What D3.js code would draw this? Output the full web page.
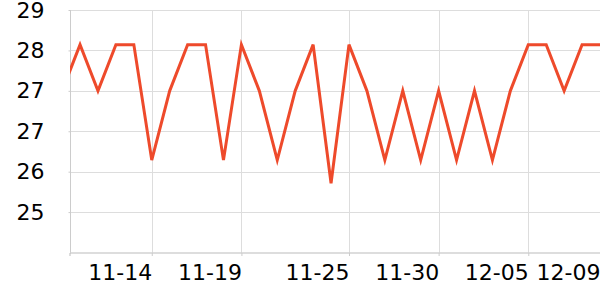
<!DOCTYPE html>
<html>
<head>
<meta charset="utf-8">
<script src="https://cdn.jsdelivr.net/npm/d3@7"></script>
<style>
html,body{margin:0;padding:0;background:#fff;}
svg{display:block;font-family:"DejaVu Sans",sans-serif;}
</style>
</head>
<body>
<svg id="chart" width="600" height="300"></svg>
<script>
const dates = ["2023-11-09","2023-11-10","2023-11-11","2023-11-12","2023-11-13","2023-11-14","2023-11-15","2023-11-16","2023-11-17","2023-11-18","2023-11-19","2023-11-20","2023-11-21","2023-11-22","2023-11-23","2023-11-24","2023-11-25","2023-11-26","2023-11-27","2023-11-28","2023-11-29","2023-11-30","2023-12-01","2023-12-02","2023-12-03","2023-12-04","2023-12-05","2023-12-06","2023-12-07","2023-12-08","2023-12-09"];
const values = [27.3,28.1,27.3,28.1,28.1,26.1,27.3,28.1,28.1,26.1,28.1,27.3,26.1,27.3,28.1,25.7,28.1,27.3,26.1,27.3,26.1,27.3,26.1,27.3,26.1,27.3,28.1,28.1,27.3,28.1,28.1];
const yTicks = [25.2,25.9,26.6,27.3,28.0,28.7];
const xTickDates = ["2023-11-14","2023-11-19","2023-11-25","2023-11-30","2023-12-05","2023-12-09"];

const parse = d3.utcParse("%Y-%m-%d");
const data = dates.map((d,i)=>({date:parse(d), value:values[i]}));

const svg = d3.select("#chart");
const mLeft = 70, mRight = 600, mTop = 10, mBottom = 252.5;
const DAY = 864e5;

const x = d3.scaleUtc()
  .domain([new Date(parse(dates[0]).getTime() + 0.44*DAY), parse(dates[dates.length-1])])
  .range([mLeft, mRight]);
const y = d3.scaleLinear().domain([24.5, 28.7]).range([mBottom, mTop]);

svg.append("defs").append("clipPath").attr("id","clip")
  .append("rect").attr("x",mLeft).attr("y",0).attr("width",mRight-mLeft).attr("height",300);

// horizontal grid
svg.append("g").selectAll("line").data(yTicks).join("line")
  .attr("x1",mLeft).attr("x2",mRight)
  .attr("y1",d=>Math.round(y(d))+0.5).attr("y2",d=>Math.round(y(d))+0.5)
  .attr("stroke","#dddddd").attr("stroke-width",1);

// vertical grid
const xt = xTickDates.map(parse);
svg.append("g").selectAll("line").data(xt.slice(0,-1)).join("line")
  .attr("x1",d=>Math.round(x(d))+0.5).attr("x2",d=>Math.round(x(d))+0.5)
  .attr("y1",mTop).attr("y2",mBottom)
  .attr("stroke","#dddddd").attr("stroke-width",1);

// y axis
const yAxis = d3.axisLeft(y).tickValues(yTicks).tickFormat(d3.format(".0f")).tickSize(2).tickPadding(24);
const gy = svg.append("g").attr("transform",`translate(${mLeft+0.5},0)`).call(yAxis);
gy.select(".domain").attr("stroke","#cccccc").attr("d",`M0,${mTop}V${mBottom}`);
gy.selectAll(".tick line").attr("stroke","#cccccc");
gy.selectAll(".tick text").attr("font-size",22).attr("fill","#000").attr("font-family","DejaVu Sans");

// x axis
const xAxis = d3.axisBottom(x).tickValues(xt).tickFormat(d3.utcFormat("%m-%d")).tickSize(3).tickPadding(8);
const gx = svg.append("g").attr("transform",`translate(0,${mBottom+0.5})`).call(xAxis);
gx.select(".domain").attr("stroke","#bbbbbb").attr("d",`M${mLeft},3V0H${mRight}`);
gx.selectAll(".tick line").attr("stroke","#cccccc");
gx.selectAll(".tick text").attr("font-size",22).attr("fill","#000")
  .attr("text-anchor","end").attr("font-family","DejaVu Sans");

// line
const line = d3.line().x(d=>x(d.date)).y(d=>y(d.value));
svg.append("path").datum(data).attr("clip-path","url(#clip)")
  .attr("d",line).attr("fill","none").attr("stroke","#ee4a2b")
  .attr("stroke-width",3).attr("stroke-linejoin","miter").attr("stroke-linecap","butt");
</script>
</body>
</html>
